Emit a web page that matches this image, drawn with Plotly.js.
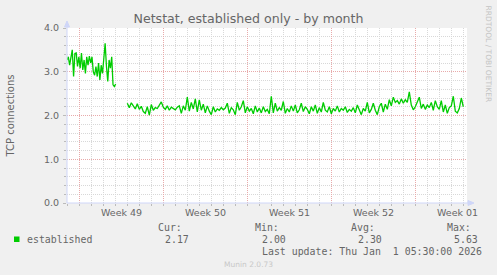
<!DOCTYPE html>
<html>
<head>
<meta charset="utf-8">
<script src="https://cdn.plot.ly/plotly-3.0.1.min.js"></script>
<style>
  html, body { margin: 0; padding: 0; background: #F0F0F0; }
  #chart { width: 497px; height: 275px; }
</style>
</head>
<body>
<div id="chart"></div>
<script>
// Time is measured in days since Monday 2025-12-01 00:00 (start of Week 49)
const weekLabels = ["Week 49", "Week 50", "Week 51", "Week 52", "Week 01"];
const weekStarts = [0, 7, 14, 21, 28];
const weekCenters = [3.5, 10.5, 17.5, 24.5, 31.5];
const yTicks = [0, 1, 2, 3, 4];
const yTickText = ["0.0", "1.0", "2.0", "3.0", "4.0"];

// Segment 1 (before the gap)
const seg1Start = -1.025;
const seg1Step = 0.1096;
const seg1Values = [3.27, 3.34, 3.15, 3.31, 3.50, 2.89, 3.42, 3.43, 3.12, 3.34,
  3.08, 3.43, 3.04, 3.27, 2.96, 3.34, 3.15, 3.36, 3.20, 3.34,
  3.00, 2.92, 3.12, 2.89, 3.20, 2.81, 3.15, 2.96, 3.42, 3.65,
  3.12, 2.78, 3.27, 3.08, 3.34, 2.70, 2.66, 2.72];

// Segment 2 (after the gap), 4-hour steps
const seg2Start = 4.0;
const seg2Step = 1 / 6;
const seg2Values = [2.28, 2.18, 2.29, 2.21, 2.15, 2.27, 2.14, 2.21, 2.09, 2.05,
  2.20, 2.01, 2.25, 2.12, 2.18, 2.16, 2.24, 2.31, 2.19, 2.14,
  2.22, 2.12, 2.19, 2.15, 2.13, 2.19, 2.22, 2.05, 2.22, 2.12,
  2.42, 2.10, 2.30, 2.15, 2.38, 2.08, 2.36, 2.12, 2.26, 2.06,
  2.22, 2.10, 2.02, 2.20, 2.08, 2.15, 2.12, 2.18, 2.13, 2.17,
  2.28, 2.05, 2.18, 2.13, 2.02, 2.30, 2.12, 2.20, 2.34, 2.06,
  2.20, 2.10, 2.16, 2.04, 2.22, 2.08, 2.17, 2.06, 2.20, 2.09,
  2.14, 2.04, 2.44, 2.06, 2.28, 2.10, 2.18, 2.12, 2.32, 2.05,
  2.16, 2.08, 2.22, 2.10, 2.24, 2.06, 2.13, 2.28, 2.09, 2.20,
  2.14, 2.04, 2.20, 2.10, 2.24, 2.05, 2.18, 2.08, 2.30, 2.12,
  2.08, 2.20, 2.04, 2.16, 2.10, 2.22, 2.08, 2.16, 2.12, 2.20,
  2.07, 2.14, 2.10, 2.18, 2.06, 2.24, 2.12, 2.02, 2.16, 2.10,
  2.30, 2.06, 2.14, 2.28, 2.12, 2.02, 2.20, 2.28, 2.08, 2.26,
  2.14, 2.36, 2.22, 2.42, 2.30, 2.34, 2.26, 2.38, 2.28, 2.36,
  2.30, 2.54, 2.24, 2.13, 2.20, 2.30, 2.42, 2.16, 2.26, 2.14,
  2.24, 2.18, 2.30, 2.12, 2.34, 2.20, 2.14, 2.34, 2.08, 2.24,
  2.05, 2.18, 2.22, 2.44, 2.10, 2.06, 2.16, 2.40, 2.20];

const legendName = "established";
const statLabels = ["Cur:", "Min:", "Avg:", "Max:"];
const statValues = ["2.17", "2.00", "2.30", "5.63"];
const lastUpdate = "Last update: Thu Jan \u00A01 05:30:00 2026";

const xs = [], ys = [];
seg1Values.forEach((v, i) => { xs.push(seg1Start + i * seg1Step); ys.push(v); });
xs.push((seg1Start + (seg1Values.length - 1) * seg1Step + seg2Start) / 2); ys.push(null);
seg2Values.forEach((v, i) => { xs.push(seg2Start + i * seg2Step); ys.push(v); });

// layout geometry (pixels)
const W = 497, H = 275, L = 67, R = 30, T = 28, B = 72;
const pw = W - L - R, ph = H - T - B;
const px = x => (x - L) / pw;
const py = y => (T + ph - y) / ph;

const mono = "DejaVu Sans Mono, monospace";
const sans = "DejaVu Sans, sans-serif";
const fontCol = "#666666";
const axisCol = "#CFD6F8";

const annotations = [];
weekLabels.forEach((t, i) => annotations.push({
  x: weekCenters[i], xref: "x", y: 0, yref: "paper", yshift: -9,
  text: t, showarrow: false, xanchor: "center", yanchor: "middle",
  font: {family: sans, size: 9.5, color: fontCol}
}));
const statX = [158, 255, 351, 447];
statLabels.forEach((t, i) => {
  annotations.push({x: px(statX[i]), y: py(227.5), xref: "paper", yref: "paper", text: t,
    showarrow: false, xanchor: "left", yanchor: "middle", xshift: -2,
    font: {family: mono, size: 9.9, color: fontCol}});
  annotations.push({x: px(statX[i] + 6.5), y: py(239), xref: "paper", yref: "paper", text: statValues[i],
    showarrow: false, xanchor: "left", yanchor: "middle", xshift: -2,
    font: {family: mono, size: 9.9, color: fontCol}});
});
annotations.push({x: px(26.7), y: py(239), xref: "paper", yref: "paper", text: legendName,
  showarrow: false, xanchor: "left", yanchor: "middle", xshift: -2,
  font: {family: mono, size: 9.9, color: fontCol}});
annotations.push({x: px(261.7), y: py(251), xref: "paper", yref: "paper", text: lastUpdate,
  showarrow: false, xanchor: "left", yanchor: "middle", xshift: -2,
  font: {family: mono, size: 9.9, color: fontCol}});
annotations.push({x: px(223.5), y: py(264), xref: "paper", yref: "paper", text: "Munin 2.0.73",
  showarrow: false, xanchor: "left", yanchor: "middle", xshift: -2,
  font: {family: sans, size: 7.5, color: "#C8C8C8"}});
annotations.push({x: px(488), y: py(53.5), xref: "paper", yref: "paper", text: "RRDTOOL / TOBI OETIKER",
  showarrow: false, xanchor: "center", yanchor: "middle", textangle: 90,
  font: {family: sans, size: 7.5, color: "#C4C4C4"}});

const shapes = [
  {type: "rect", xref: "paper", yref: "paper", x0: px(14), x1: px(19.5), y0: py(242), y1: py(236.5),
   fillcolor: "#00CC00", line: {width: 0}},
  {type: "path", xref: "paper", yref: "paper", layer: "above",
   path: `M ${px(67)},${py(203)} L ${px(67)},${py(24)}`, line: {color: axisCol, width: 1}},
  {type: "path", xref: "paper", yref: "paper", layer: "above",
   path: `M ${px(64.5)},${py(27)} L ${px(67)},${py(21)} L ${px(69.5)},${py(27)} Z`,
   fillcolor: axisCol, line: {color: axisCol, width: 1}},
  {type: "path", xref: "paper", yref: "paper", layer: "above",
   path: `M ${px(67)},${py(203)} L ${px(471)},${py(203)}`, line: {color: axisCol, width: 1}},
  {type: "path", xref: "paper", yref: "paper", layer: "above",
   path: `M ${px(468)},${py(200.5)} L ${px(474)},${py(203)} L ${px(468)},${py(205.5)} Z`,
   fillcolor: axisCol, line: {color: axisCol, width: 1}}
];

const minorGrid = "#D8D8D8";
const majorGrid = "#E8AAAA";

const layout = {
  width: W, height: H,
  margin: {l: L, r: R, t: T, b: B, pad: 0},
  paper_bgcolor: "#F0F0F0",
  plot_bgcolor: "#FFFFFF",
  showlegend: false,
  title: {text: "Netstat, established only - by month", x: 0.5, xref: "container",
    y: 1 - 19 / H, yref: "container", yanchor: "middle",
    font: {family: sans, size: 12.6, color: fontCol}},
  xaxis: {
    range: [(L - 79.3) / 12, (L + pw - 79.3) / 12],
    tickmode: "array", tickvals: weekStarts, ticktext: weekStarts.map(() => ""),
    showticklabels: false,
    showgrid: true, gridcolor: majorGrid, griddash: "1px,1px", gridwidth: 1,
    ticks: "outside", ticklen: 3, tickcolor: majorGrid,
    minor: {dtick: 1, tick0: 0, showgrid: true, gridcolor: minorGrid, griddash: "1px,1px",
      ticks: "outside", ticklen: 2, tickcolor: "#BBBBBB"},
    zeroline: false, showline: false, fixedrange: true
  },
  yaxis: {
    range: [0, 4],
    tickmode: "array", tickvals: yTicks, ticktext: yTickText,
    tickfont: {family: sans, size: 9.5, color: fontCol},
    ticklabelstandoff: 2,
    showgrid: true, gridcolor: majorGrid, griddash: "1px,1px", gridwidth: 1,
    ticks: "outside", ticklen: 3, tickcolor: "#BBBBBB",
    minor: {dtick: 0.2, tick0: 0, showgrid: true, gridcolor: minorGrid, griddash: "1px,1px",
      ticks: "outside", ticklen: 2, tickcolor: "#BBBBBB"},
    title: {text: "TCP connections", font: {family: sans, size: 10, color: fontCol}, standoff: 27},
    zeroline: false, showline: false, fixedrange: true
  },
  annotations: annotations,
  shapes: shapes
};

const data = [{
  type: "scatter", mode: "lines", x: xs, y: ys, name: legendName,
  line: {color: "#00CC00", width: 1.3}, connectgaps: false, hoverinfo: "skip"
}];

Plotly.newPlot("chart", data, layout, {staticPlot: true, displayModeBar: false});
</script>
</body>
</html>
